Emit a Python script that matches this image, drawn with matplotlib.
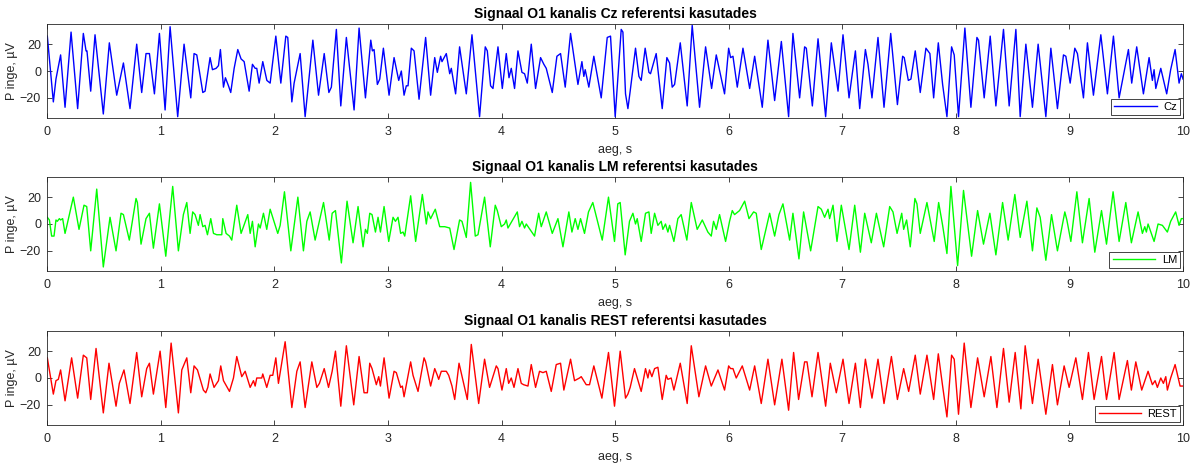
import matplotlib
matplotlib.use("Agg")
import matplotlib.pyplot as plt

cz_t = [0.000, 0.053, 0.076, 0.117, 0.156, 0.209, 0.267, 0.317, 0.341, 0.349, 0.382, 0.420, 0.493, 0.546,
        0.611, 0.670, 0.728, 0.787, 0.831, 0.869, 0.899, 0.943, 0.987, 1.037, 1.081, 1.148, 1.204, 1.263,
        1.292, 1.316, 1.369, 1.389, 1.433, 1.454, 1.486, 1.507, 1.524, 1.551, 1.568, 1.595, 1.615, 1.645,
        1.677, 1.706, 1.733, 1.777, 1.806, 1.830, 1.844, 1.865, 1.897, 1.933, 1.962, 2.012, 2.056, 2.100,
        2.117, 2.153, 2.173, 2.226, 2.270, 2.338, 2.388, 2.438, 2.479, 2.501, 2.545, 2.584, 2.633, 2.701,
        2.745, 2.801, 2.848, 2.862, 2.877, 2.906, 2.927, 2.959, 3.009, 3.053, 3.094, 3.117, 3.141, 3.161,
        3.176, 3.205, 3.229, 3.273, 3.331, 3.375, 3.411, 3.434, 3.463, 3.475, 3.513, 3.543, 3.557, 3.595,
        3.630, 3.689, 3.739, 3.806, 3.856, 3.874, 3.903, 3.924, 3.968, 4.006, 4.041, 4.065, 4.085, 4.114,
        4.144, 4.179, 4.202, 4.226, 4.261, 4.299, 4.343, 4.372, 4.393, 4.446, 4.487, 4.519, 4.560, 4.607,
        4.672, 4.707, 4.724, 4.736, 4.768, 4.812, 4.877, 4.930, 4.959, 5.000, 5.053, 5.068, 5.091, 5.112,
        5.132, 5.179, 5.209, 5.229, 5.264, 5.297, 5.311, 5.361, 5.414, 5.455, 5.479, 5.502, 5.523, 5.573,
        5.634, 5.678, 5.743, 5.796, 5.849, 5.890, 5.963, 5.999, 6.016, 6.037, 6.075, 6.125, 6.184, 6.228,
        6.295, 6.345, 6.404, 6.463, 6.527, 6.565, 6.624, 6.668, 6.683, 6.736, 6.786, 6.853, 6.903, 6.962,
        7.006, 7.059, 7.115, 7.153, 7.203, 7.226, 7.261, 7.314, 7.367, 7.426, 7.485, 7.531, 7.545, 7.581,
        7.604, 7.642, 7.686, 7.736, 7.771, 7.804, 7.845, 7.883, 7.921, 7.962, 7.985, 8.023, 8.079, 8.132,
        8.185, 8.199, 8.249, 8.302, 8.352, 8.419, 8.469, 8.528, 8.566, 8.616, 8.674, 8.724, 8.792, 8.836,
        8.894, 8.947, 8.968, 9.006, 9.047, 9.070, 9.123, 9.158, 9.211, 9.276, 9.334, 9.387, 9.437, 9.519,
        9.548, 9.592, 9.651, 9.701, 9.730, 9.745, 9.760, 9.804, 9.856, 9.891, 9.930, 9.965, 9.985, 10.000]
cz_v = [26, -23, -6, 12, -27, 29, -28, 28, 15, 15, -15, 27, -32, 21,
        -18, 6, -28, 20, -16, 13, 13, -17, 28, -29, 33, -34, 20, -20,
        13, 12, -16, -15, 10, 1, 2, 4, 16, -12, -5, -11, -16, 2,
        16, 9, 7, -15, 5, 2, 2, -9, 7, -7, -9, 26, -9, 26,
        25, -23, -9, 13, -34, 23, -18, 13, -16, -12, 31, -26, 25, -29,
        32, -20, 23, 15, 16, -10, -6, 17, -18, 10, -7, 0, -18, -11,
        -11, 17, 15, -21, 25, -18, 10, -1, 11, 7, 13, -2, 2, -17,
        18, -17, 27, -34, 18, 15, -11, -13, 18, -13, 13, -5, 2, -13,
        15, -1, -2, -9, 20, -13, 10, 5, 2, -16, 11, 13, -12, 28,
        -10, 7, -4, 1, -12, 11, -20, 25, 26, -34, 31, 29, -17, -28,
        -15, 17, -4, -7, 17, -1, -2, 13, -28, 10, 6, -12, -10, 21,
        -26, 34, -27, 18, -13, 12, -17, 17, 10, 11, -12, 17, -13, 11,
        -27, 23, -22, 22, -34, 28, -20, 18, 17, -26, 24, -34, 21, -15,
        27, -20, 15, -28, 16, 5, -20, 25, -27, 28, -25, 11, 10, -7,
        -6, 15, -16, 17, 13, -20, 21, -10, -34, 18, 12, -34, 32, -27,
        25, 23, -20, 26, -26, 31, -26, 31, -34, 20, -27, 20, -34, 17,
        -28, 12, 11, -9, 17, 13, -20, 21, -18, 27, -17, 26, -20, 16,
        -9, 18, -17, 10, -7, 1, -13, 2, -17, 1, 16, -9, -2, -6]

lm_t = [0.000, 0.018, 0.038, 0.059, 0.076, 0.088, 0.106, 0.117, 0.135, 0.156, 0.170, 0.229, 0.279, 0.323,
        0.347, 0.382, 0.435, 0.493, 0.552, 0.605, 0.649, 0.670, 0.722, 0.781, 0.793, 0.825, 0.869, 0.899,
        0.934, 0.987, 1.043, 1.104, 1.154, 1.198, 1.228, 1.257, 1.280, 1.301, 1.330, 1.345, 1.369, 1.389,
        1.410, 1.439, 1.463, 1.492, 1.536, 1.545, 1.574, 1.604, 1.624, 1.668, 1.706, 1.765, 1.786, 1.806,
        1.830, 1.859, 1.874, 1.903, 1.932, 1.962, 2.029, 2.050, 2.088, 2.144, 2.206, 2.255, 2.285, 2.314,
        2.358, 2.432, 2.482, 2.508, 2.537, 2.560, 2.589, 2.639, 2.692, 2.736, 2.780, 2.801, 2.818, 2.839,
        2.859, 2.889, 2.912, 2.933, 2.965, 3.006, 3.044, 3.065, 3.088, 3.111, 3.132, 3.147, 3.199, 3.243,
        3.302, 3.337, 3.352, 3.375, 3.416, 3.455, 3.499, 3.543, 3.581, 3.630, 3.651, 3.689, 3.727, 3.768,
        3.792, 3.850, 3.900, 3.944, 3.962, 3.997, 4.026, 4.041, 4.056, 4.138, 4.158, 4.179, 4.202, 4.217,
        4.290, 4.326, 4.349, 4.393, 4.446, 4.496, 4.540, 4.592, 4.619, 4.648, 4.672, 4.695, 4.730, 4.765,
        4.803, 4.886, 4.941, 4.994, 5.023, 5.044, 5.088, 5.126, 5.156, 5.179, 5.194, 5.229, 5.267, 5.297,
        5.317, 5.347, 5.376, 5.405, 5.420, 5.443, 5.464, 5.479, 5.517, 5.552, 5.581, 5.631, 5.670, 5.722,
        5.767, 5.816, 5.846, 5.866, 5.890, 5.919, 5.972, 6.007, 6.031, 6.051, 6.095, 6.140, 6.178, 6.219,
        6.242, 6.286, 6.360, 6.404, 6.442, 6.477, 6.536, 6.565, 6.618, 6.659, 6.721, 6.786, 6.815, 6.844,
        6.874, 6.888, 6.918, 6.953, 6.991, 7.059, 7.109, 7.159, 7.197, 7.255, 7.300, 7.364, 7.417, 7.446,
        7.482, 7.523, 7.540, 7.566, 7.598, 7.639, 7.657, 7.686, 7.745, 7.809, 7.848, 7.883, 7.921, 7.956,
        8.015, 8.067, 8.138, 8.191, 8.243, 8.299, 8.352, 8.411, 8.460, 8.519, 8.566, 8.625, 8.674, 8.713,
        8.742, 8.792, 8.842, 8.894, 8.959, 8.977, 9.012, 9.065, 9.114, 9.173, 9.223, 9.282, 9.326, 9.384,
        9.437, 9.496, 9.545, 9.604, 9.642, 9.663, 9.677, 9.692, 9.745, 9.780, 9.818, 9.862, 9.891, 9.935,
        9.965, 9.985, 10.000]
lm_v = [5, 3, -9, -9, 3, 2, 4, 3, 4, -7, -2, 20, -4, 14,
        13, -20, 26, -32, 5, -20, 8, 7, -12, 19, 16, -15, 4, 8,
        -18, 15, -24, 28, -20, 7, 16, -7, 9, 7, -1, 7, -2, -1,
        -8, 4, -7, -8, -8, 4, -7, -9, -12, 14, -7, 7, -7, 2,
        -17, 0, -3, 8, -4, 11, -7, -1, 24, -20, 20, -20, 2, 9,
        -12, 16, -12, 8, 10, -7, -29, 17, -14, 13, -17, -4, -7, 8,
        7, -6, 5, -6, 13, -13, 5, 2, 5, -7, -6, -9, 21, -13,
        22, 0, 9, 4, 11, -2, -2, -3, -19, 3, 2, -10, 31, -9,
        -8, 20, -17, 14, 10, -2, 0, 3, -3, 9, -2, 2, -3, 0,
        -9, 8, -2, 9, -7, 4, -17, 9, -6, 4, -4, 4, -7, 9,
        16, -12, 20, -13, 15, 16, -23, 2, 8, 0, 4, -13, 8, 9,
        -7, 8, -1, 2, -4, 0, -6, -1, -13, 4, 7, -12, 16, -4,
        3, -6, -9, 2, -4, 7, -13, 2, 10, 7, 10, 17, 4, 9,
        8, -19, 8, -9, 7, 15, -12, 8, -26, 9, -20, 13, 11, 5,
        11, 4, 14, -13, 14, -19, 14, -21, 8, -14, 8, -17, 13, 9,
        -7, 8, -4, 3, -17, 19, 15, -7, 16, -13, 16, -1, -22, 28,
        -31, 25, -24, 10, -15, 8, -23, 16, -12, 22, -10, 17, -20, 12,
        5, -27, 7, -20, 9, 3, -13, 24, -14, 19, -21, 10, -15, 24,
        -13, 16, -14, 9, -7, -2, -6, 0, -13, 0, -1, -6, 2, 9,
        -1, 4, 4]

rest_t = [0.000, 0.053, 0.076, 0.097, 0.117, 0.156, 0.214, 0.267, 0.317, 0.347, 0.382, 0.429, 0.493, 0.543,
          0.605, 0.634, 0.675, 0.728, 0.787, 0.831, 0.875, 0.899, 0.934, 0.993, 1.043, 1.090, 1.154, 1.184,
          1.228, 1.263, 1.292, 1.322, 1.374, 1.395, 1.413, 1.433, 1.468, 1.507, 1.527, 1.551, 1.604, 1.639,
          1.668, 1.712, 1.742, 1.786, 1.815, 1.830, 1.844, 1.888, 1.897, 1.932, 1.962, 1.985, 2.012, 2.035,
          2.094, 2.153, 2.197, 2.226, 2.270, 2.329, 2.373, 2.396, 2.438, 2.476, 2.508, 2.537, 2.584, 2.633,
          2.698, 2.745, 2.789, 2.818, 2.839, 2.859, 2.897, 2.918, 2.933, 2.965, 3.009, 3.053, 3.073, 3.111,
          3.126, 3.141, 3.161, 3.199, 3.220, 3.264, 3.317, 3.331, 3.375, 3.411, 3.434, 3.446, 3.469, 3.513,
          3.534, 3.563, 3.587, 3.625, 3.698, 3.733, 3.798, 3.850, 3.894, 3.953, 3.968, 4.003, 4.041, 4.062,
          4.085, 4.109, 4.144, 4.173, 4.194, 4.232, 4.261, 4.299, 4.334, 4.364, 4.393, 4.437, 4.481, 4.519,
          4.548, 4.607, 4.642, 4.686, 4.701, 4.745, 4.774, 4.812, 4.883, 4.941, 4.994, 5.044, 5.091, 5.112,
          5.132, 5.170, 5.229, 5.267, 5.288, 5.302, 5.323, 5.347, 5.376, 5.414, 5.449, 5.464, 5.493, 5.517,
          5.573, 5.634, 5.670, 5.737, 5.796, 5.846, 5.905, 5.963, 5.999, 6.016, 6.037, 6.066, 6.119, 6.184,
          6.228, 6.286, 6.345, 6.404, 6.468, 6.527, 6.571, 6.615, 6.668, 6.689, 6.733, 6.786, 6.853, 6.894,
          6.947, 7.006, 7.059, 7.115, 7.159, 7.203, 7.261, 7.314, 7.367, 7.432, 7.485, 7.540, 7.584, 7.642,
          7.686, 7.745, 7.804, 7.845, 7.883, 7.921, 7.962, 7.985, 8.023, 8.073, 8.132, 8.191, 8.249, 8.308,
          8.361, 8.419, 8.469, 8.522, 8.572, 8.610, 8.674, 8.724, 8.792, 8.850, 8.894, 8.953, 8.997, 9.056,
          9.114, 9.167, 9.217, 9.282, 9.326, 9.393, 9.437, 9.510, 9.545, 9.584, 9.636, 9.692, 9.730, 9.754,
          9.774, 9.804, 9.827, 9.848, 9.862, 9.891, 9.930, 9.974, 10.000]
rest_v = [15, -12, -2, -1, 6, -17, 15, -15, 17, 15, -16, 22, -26, 11,
          -21, -4, 6, -19, 19, -14, 7, 11, -12, 20, -22, 26, -26, 6,
          15, -11, 9, 6, -9, -11, -7, 3, -7, -2, 9, -2, -10, 0,
          16, 1, 5, -7, -2, -6, 0, 0, 3, -7, 2, 2, 15, -4,
          27, -22, 5, 12, -22, 12, -7, -4, 7, -7, 5, 20, -21, 24,
          -20, 16, -11, -11, 11, 7, -5, 1, -6, 15, -15, 5, 4, -7,
          -6, -14, -5, 12, 2, -10, 15, 12, -6, 7, 2, -1, 5, 5,
          2, -6, -16, 11, -16, 25, -19, 14, -7, 9, 7, -9, 7, -4,
          0, -7, 7, -4, -5, -6, 10, -7, 5, 4, 5, -10, 10, 11,
          -9, 14, -2, 0, 1, -5, -5, 9, -15, 19, -21, 20, -15, -12,
          -7, 7, -10, 7, 0, 6, 1, 7, 8, -16, 2, -1, 0, -9,
          11, -19, 24, -14, 9, -6, 6, -9, 9, 7, 7, 0, 9, -9,
          9, -19, 14, -20, 14, -24, 19, -16, 12, 12, -14, 19, -21, 11,
          -11, 14, -19, 11, -22, 14, -15, 14, -19, 16, -16, 7, -10, 17,
          -12, 17, -16, 18, -6, -29, 17, 14, -27, 26, -22, 15, -14, 16,
          -22, 22, -18, 19, -23, 24, -19, 14, -27, 10, -20, 9, -7, 15,
          -16, 19, -16, 16, -16, 19, -16, 13, -9, 12, -9, 5, -5, -2,
          -7, 0, -4, 1, -9, 0, 10, -6, -6]

channels = ["Cz", "LM", "REST"]
x_ticks = [0, 1, 2, 3, 4, 5, 6, 7, 8, 9, 10]
y_ticks = [-20, 0, 20]

plt.rcParams['font.family'] = ['Liberation Sans', 'DejaVu Sans']

fig = plt.figure(figsize=(11.95, 4.63), dpi=100)

series = [(cz_t, cz_v, 'blue'), (lm_t, lm_v, '#00ff00'), (rest_t, rest_v, 'red')]
bottoms = [0.7451, 0.4147, 0.0821]
grey = '#262626'

for (t, v, col), name, b in zip(series, channels, bottoms):
    ax = fig.add_axes([0.0396, b, 0.9504, 0.2030])
    ax.plot(t, v, color=col, linewidth=1.0, label=name)
    ax.set_xlim(0, 10)
    ax.set_ylim(-35, 35)
    ax.set_xticks(x_ticks)
    ax.set_yticks(y_ticks)
    ax.tick_params(direction='in', top=True, right=True, length=3.5, width=0.6,
                   labelsize=9, colors=grey)
    ax.tick_params(axis='x', pad=6)
    ax.tick_params(axis='y', pad=4.5)
    for s in ax.spines.values():
        s.set_color(grey)
        s.set_linewidth(0.6)
    ax.set_title('Signaal O1 kanalis {} referentsi kasutades'.format(name),
                 fontsize=10, fontweight='bold', color='black', pad=4.5)
    ax.set_xlabel('aeg, s', fontsize=9, color=grey, labelpad=4)
    ax.set_ylabel('P inge, µV', fontsize=9, color=grey, labelpad=1)
    leg = ax.legend(loc='lower right', fontsize=8, fancybox=False, framealpha=1,
                    edgecolor=grey, handlelength=3.8, borderpad=0.3,
                    borderaxespad=0.25, handletextpad=0.6)
    leg.get_frame().set_linewidth(0.6)

plt.savefig('out.png', dpi=100)
